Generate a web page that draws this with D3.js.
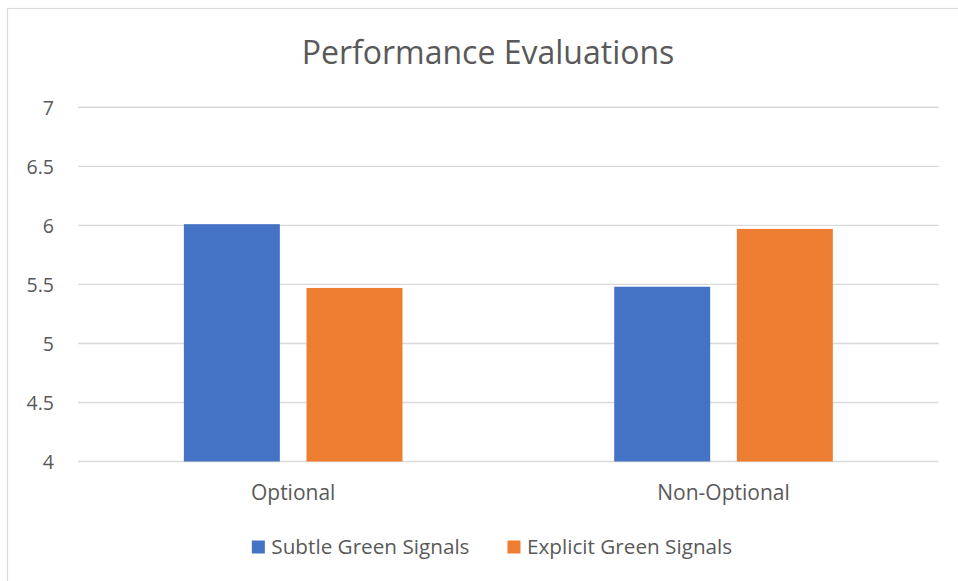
<!DOCTYPE html>
<html>
<head>
<meta charset="utf-8">
<script src="https://cdn.jsdelivr.net/npm/d3@7"></script>
<style>
  html, body { margin: 0; padding: 0; background: #fff; }
  svg { display: block; }
  text { font-family: "Open Sans", Lato, sans-serif; fill: #595959; }
</style>
</head>
<body>
<svg id="chart" width="958" height="581"></svg>
<script>
const title = "Performance Evaluations";
const categories = ["Optional", "Non-Optional"];
const seriesNames = ["Subtle Green Signals", "Explicit Green Signals"];
const subtleValues = [6.01, 5.48];
const explicitValues = [5.47, 5.97];
const yTicks = [4, 4.5, 5, 5.5, 6, 6.5, 7];
const colors = ["#4472C4", "#ED7D31"];

const FONT = '"Open Sans", Lato, sans-serif';
const svg = d3.select("#chart");
const W = 958, H = 581;
svg.append("rect").attr("width", W).attr("height", H).attr("fill", "#fff");

// chart border (extends beyond right/bottom of the picture)
svg.append("rect")
  .attr("x", 7.5).attr("y", 8.5)
  .attr("width", 1000).attr("height", 700)
  .attr("fill", "none").attr("stroke", "#d9d9d9").attr("stroke-width", 1.2);

const plot = { left: 78, right: 938.7, top: 107.3, bottom: 461.5 };

const y = d3.scaleLinear().domain([4, 7]).range([plot.bottom, plot.top]);
const x0 = d3.scaleBand().domain(categories)
  .range([plot.left, plot.right])
  .paddingInner(0.492).paddingOuter(0.246);
const x1 = d3.scaleBand().domain(seriesNames)
  .range([0, x0.bandwidth()])
  .paddingInner(0.2176).paddingOuter(0);

// gridlines
svg.append("g").selectAll("line").data(yTicks).join("line")
  .attr("x1", plot.left).attr("x2", plot.right)
  .attr("y1", d => y(d)).attr("y2", d => y(d))
  .attr("stroke", "#d9d9d9").attr("stroke-width", 1.4);

// y axis labels
const yAxis = d3.axisLeft(y).tickValues(yTicks).tickSize(0).tickPadding(0)
  .tickFormat(d3.format("~g"));
const yg = svg.append("g").attr("transform", `translate(54,0)`).call(yAxis);
yg.select(".domain").remove();
yg.selectAll("text").style("font-size", "19.5px").style("font-family", FONT).attr("fill", "#595959").attr("dy", "0.36em");

// bars
const data = categories.map((c, i) => ({ cat: c, vals: [subtleValues[i], explicitValues[i]] }));
const groups = svg.append("g").selectAll("g").data(data).join("g")
  .attr("transform", d => `translate(${x0(d.cat)},0)`);
groups.selectAll("rect")
  .data(d => d.vals.map((v, j) => ({ name: seriesNames[j], v, j })))
  .join("rect")
  .attr("x", d => x1(d.name))
  .attr("width", x1.bandwidth())
  .attr("y", d => y(d.v))
  .attr("height", d => y(4) - y(d.v))
  .attr("fill", d => colors[d.j]);

// x axis labels
const xAxis = d3.axisBottom(x0).tickSize(0).tickPadding(0);
const xg = svg.append("g").attr("transform", `translate(0,${plot.bottom})`).call(xAxis);
xg.select(".domain").remove();
xg.selectAll("text").style("font-size", "21px").style("font-family", FONT).attr("fill", "#595959").attr("y", 38.5).attr("dy", 0);

// title
svg.append("text").attr("x", 488).attr("y", 64)
  .attr("text-anchor", "middle").style("font-size", "32px").text(title);

// legend
const legend = svg.append("g");
const items = legend.selectAll("g").data(seriesNames).join("g");
items.append("rect").attr("width", 13).attr("height", 13).attr("y", 540.5)
  .attr("fill", (d, i) => colors[i]);
items.append("text").attr("x", 19.5).attr("y", 553.5).style("font-size", "20.7px").text(d => d);
let cx = 0;
const widths = [];
items.each(function () {
  const w = 19.5 + d3.select(this).select("text").node().getComputedTextLength();
  widths.push(w);
});
const gap = 38;
const total = widths.reduce((a, b) => a + b, 0) + gap * (widths.length - 1);
cx = 492 - total / 2;
items.attr("transform", (d, i) => {
  const tx = cx; cx += widths[i] + gap; return `translate(${tx},0)`;
});
</script>
</body>
</html>
